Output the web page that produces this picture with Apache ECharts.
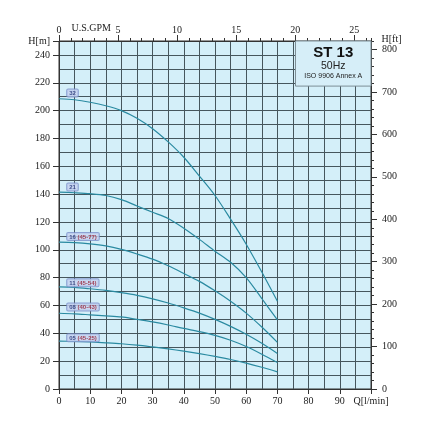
<!DOCTYPE html>
<html>
<head>
<meta charset="utf-8">
<script src="https://cdn.jsdelivr.net/npm/echarts@6/dist/echarts.min.js"></script>
<style>
  html, body { margin: 0; padding: 0; background: #fff; }
  #chart { width: 430px; height: 430px; }
</style>
</head>
<body>
<div id="chart"></div>
<script>
/* ST 13 pump curves, 50Hz */
var flowQ = [0, 5, 10, 15, 20, 25, 30, 35, 40, 45, 50, 55, 60, 65, 70];
var head32 = [208.5, 207.8, 206, 203.5, 200, 194.5, 187, 177.5, 166.5, 153, 139, 122, 104, 84, 63];
var head21 = [141.5, 141, 140.3, 139, 136, 131.5, 127, 122.5, 115.5, 107.5, 99, 91, 80, 65, 49.6];
var head16 = [105.5, 105.2, 104.3, 102.8, 100.3, 97, 93.3, 88.5, 83, 77.3, 70.5, 63, 54.5, 44.5, 33.5];
var head11 = [73.3, 73, 72, 70.8, 69.2, 67.3, 64.8, 61.8, 58.3, 54.5, 50, 45, 39.3, 32.8, 25.5];
var head08 = [54.4, 54, 53.3, 52.6, 51.8, 50, 48.2, 46, 43.5, 41.2, 38.5, 35, 30.5, 25, 19];
var head05 = [34.4, 34.2, 33.8, 33.2, 32.5, 31.5, 30.2, 28.8, 27.2, 25.4, 23.4, 21.2, 18.6, 15.6, 12.3];

var labelNames = ['32', '21', '16', '11', '08', '05'];
var labelRanges = ['', '', '(45-77)', '(45-54)', '(40-43)', '(45-25)'];
var labelHead = [212.6, 145.2, 109.6, 76.3, 58.9, 36.8];
var labelQ = 2.6;

var qMax = 100, hMax = 250;
var ftMax = hMax / 0.3048, gpmMax = qMax / 3.785;

function pairs(ys) {
    return flowQ.map(function (q, i) { return [q, ys[i]]; });
}

var serif = 'Liberation Serif';
var lineColor = '#2a8aa1';
var gridColor = '#46565d';
var axisColor = '#333';
var noLine = { show: false, onZero: false };
var axisLine = { show: true, onZero: false, lineStyle: { color: axisColor } };

var curves = [head32, head21, head16, head11, head08, head05];
var series = curves.map(function (h, i) {
    return {
        name: labelNames[i],
        type: 'line',
        smooth: 0.3,
        symbol: 'none',
        data: pairs(h),
        lineStyle: { color: lineColor, width: 1.2 },
        z: 3
    };
});

/* info box */
series[0].markArea = {
    silent: true,
    itemStyle: { color: '#d6eef8', borderColor: '#7d8d95', borderWidth: 1 },
    label: {
        position: 'inside',
        formatter: '{a|ST 13}\n{b|50Hz}\n{c|ISO 9906 Annex A}',
        rich: {
            a: { fontFamily: 'Liberation Sans', fontWeight: 'bold', fontSize: 15, lineHeight: 15, color: '#111' },
            b: { fontFamily: 'Liberation Sans', fontSize: 10.5, lineHeight: 11, color: '#222' },
            c: { fontFamily: 'Liberation Sans', fontSize: 7, lineHeight: 10, color: '#222' }
        }
    },
    data: [[{ coord: [75.8, hMax] }, { coord: [qMax, 217.6] }]]
};

/* curve tags */
series.push({
    type: 'scatter',
    symbolSize: 0.1,
    itemStyle: { color: 'rgba(0,0,0,0)' },
    z: 5,
    data: labelNames.map(function (n, i) { return [labelQ, labelHead[i], n, labelRanges[i]]; }),
    label: {
        show: true,
        position: 'right',
        distance: 0,
        formatter: function (p) {
            var t = '{n|' + p.data[2] + '}';
            if (p.data[3]) t += ' {r|' + p.data[3] + '}';
            return t;
        },
        backgroundColor: '#c8d4f1',
        borderColor: '#7b90cb',
        borderWidth: 1,
        borderRadius: 1,
        padding: [1, 2, 0, 2],
        fontFamily: 'Liberation Sans',
        fontWeight: 'bold',
        fontSize: 6,
        lineHeight: 6,
        rich: {
            n: { color: '#1a2870', fontSize: 6, fontWeight: 'bold', fontFamily: 'Liberation Sans', lineHeight: 6 },
            r: { color: '#951a30', fontSize: 6, fontWeight: 'bold', fontFamily: 'Liberation Sans', lineHeight: 6 }
        }
    }
});

var chart = echarts.init(document.getElementById('chart'));
chart.setOption({
    animation: false,
    grid: {
        left: 59, right: 59, top: 41, bottom: 41,
        show: true, backgroundColor: '#d4eff9', borderColor: axisColor, borderWidth: 1
    },
    graphic: [
        {
            type: 'text', left: 71.5, top: 23.5,
            style: { text: 'U.S.GPM', font: '10px "Liberation Serif"', fill: '#222' }
        },
        {
            type: 'text', left: 381.5, top: 34.5,
            style: { text: 'H[ft]', font: '10px "Liberation Serif"', fill: '#222' }
        }
    ],
    xAxis: [
        {   /* l/min */
            type: 'value', position: 'bottom', min: 0, max: qMax, interval: 10,
            axisLine: axisLine,
            axisTick: { show: true, length: 5, lineStyle: { color: axisColor } },
            axisLabel: {
                margin: 7, fontFamily: serif, fontSize: 10, color: '#222', showMaxLabel: true,
                formatter: function (v) { return v === qMax ? 'Q[l/min]' : v; }
            },
            splitLine: { show: true, lineStyle: { color: gridColor, width: 1 } },
            minorTick: { show: false, splitNumber: 2 },
            minorSplitLine: { show: true, lineStyle: { color: gridColor, width: 1 } }
        },
        {   /* U.S.GPM */
            type: 'value', position: 'top', min: 0, max: gpmMax, interval: 5,
            axisLine: axisLine,
            axisTick: { show: true, length: 6, lineStyle: { color: axisColor } },
            axisLabel: {
                margin: 6, fontFamily: serif, fontSize: 10, color: '#222',
                showMaxLabel: false,
                formatter: function (v) { return v % 5 === 0 ? v : ''; }
            },
            splitLine: { show: false }
        },
        {   /* U.S.GPM minor ticks */
            type: 'value', position: 'top', min: 0, max: gpmMax, interval: 1,
            axisLine: noLine,
            axisTick: { show: true, length: 3, lineStyle: { color: axisColor } },
            axisLabel: { show: false },
            splitLine: { show: false }
        }
    ],
    yAxis: [
        {   /* H[m] grid */
            type: 'value', position: 'left', min: 0, max: hMax, interval: 10,
            axisLine: axisLine,
            axisTick: { show: false },
            axisLabel: { show: false },
            splitLine: { show: true, lineStyle: { color: gridColor, width: 1 } }
        },
        {   /* H[m] labels */
            type: 'value', position: 'left', min: 0, max: hMax, interval: 20,
            axisLine: noLine,
            axisTick: { show: true, length: 6, lineStyle: { color: axisColor } },
            axisLabel: {
                margin: 9, fontFamily: serif, fontSize: 10, color: '#222', showMaxLabel: true,
                formatter: function (v) { return v === hMax ? 'H[m]' : (v % 20 === 0 ? v : ''); }
            },
            splitLine: { show: false }
        },
        {   /* H[ft] */
            type: 'value', position: 'right', min: 0, max: ftMax, interval: 100,
            axisLine: axisLine,
            axisTick: { show: true, length: 6, lineStyle: { color: axisColor } },
            axisLabel: {
                margin: 11, fontFamily: serif, fontSize: 10, color: '#222',
                showMaxLabel: false, hideOverlap: false,
                formatter: function (v) { return v % 100 === 0 ? v : ''; }
            },
            splitLine: { show: false }
        },
        {   /* H[ft] minor ticks */
            type: 'value', position: 'right', min: 0, max: ftMax, interval: 20,
            axisLine: noLine,
            axisTick: { show: true, length: 3, lineStyle: { color: axisColor } },
            axisLabel: { show: false },
            splitLine: { show: false }
        }
    ],
    series: series
});
</script>
</body>
</html>
